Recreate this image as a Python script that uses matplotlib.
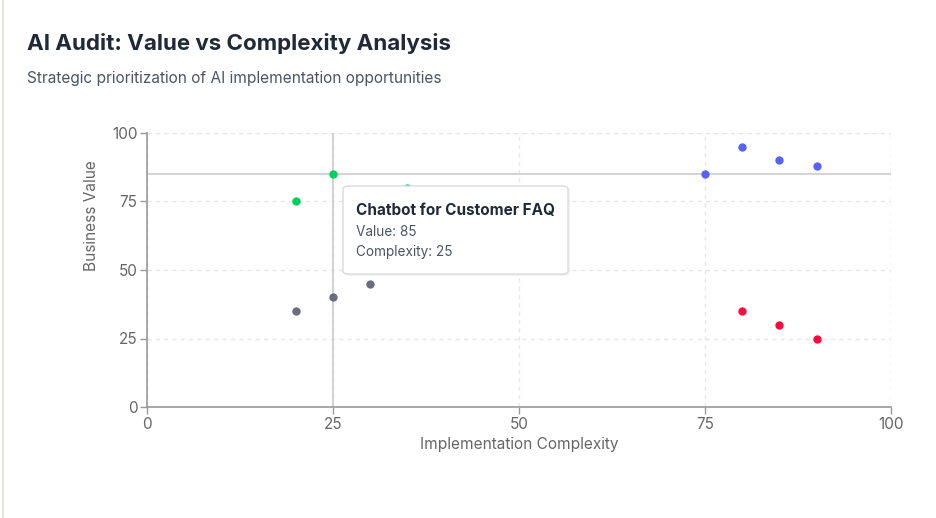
import matplotlib.pyplot as plt
from matplotlib.patches import FancyBboxPatch

# data
quick_wins_x = [20, 25, 35]
quick_wins_y = [75, 85, 80]
low_priority_x = [20, 25, 30]
low_priority_y = [35, 40, 45]
strategic_x = [75, 80, 85, 90]
strategic_y = [85, 95, 90, 88]
avoid_x = [80, 85, 90]
avoid_y = [35, 30, 25]

hover_name = "Chatbot for Customer FAQ"
hover_value = 85
hover_complexity = 25

ticks = [0, 25, 50, 75, 100]

plt.rcParams['font.family'] = ['Inter', 'DejaVu Sans']

fig = plt.figure(figsize=(9.36, 5.18), dpi=100)
W, H = 936, 518

ax = fig.add_axes([147 / W, 1 - 407 / H, (891 - 147) / W, (407 - 133) / H])

# grid
ax.set_xlim(0, 100)
ax.set_ylim(0, 100)
ax.set_xticks(ticks)
ax.set_yticks(ticks)
ax.grid(True, color='#e6e6e6', linestyle=(0, (3, 3)), linewidth=1)
ax.set_axisbelow(True)
for s in ['top', 'right']:
    ax.spines[s].set_visible(False)
for s in ['left', 'bottom']:
    ax.spines[s].set_color('#999999')
    ax.spines[s].set_linewidth(1.2)
ax.tick_params(colors='#999999', labelcolor='#666666', labelsize=11, length=5, width=1, pad=2)
# dashed border lines at 100
ax.axhline(100, color='#e6e6e6', linestyle=(0, (3, 3)), linewidth=1, zorder=0)
ax.axvline(100, color='#e6e6e6', linestyle=(0, (3, 3)), linewidth=1, zorder=0)

# hover crosshair
ax.axhline(hover_value, color='#cccccc', linewidth=1.2, zorder=1)
ax.axvline(hover_complexity, color='#cccccc', linewidth=1.2, zorder=1)

ax.scatter(quick_wins_x, quick_wins_y, s=36, color='#00d15e', zorder=3, linewidths=0)
ax.scatter(low_priority_x, low_priority_y, s=36, color='#6b6c7e', zorder=3, linewidths=0)
ax.scatter(strategic_x, strategic_y, s=36, color='#5663f7', zorder=3, linewidths=0)
ax.scatter(avoid_x, avoid_y, s=36, color='#ff0a3c', zorder=3, linewidths=0)

ax.set_xlabel('Implementation Complexity', color='#666666', fontsize=11.1, labelpad=4)
ax.set_ylabel('Business Value', color='#666666', fontsize=11.1, labelpad=9, y=0.70)

# titles
fig.text(27 / W, 1 - 44 / H, 'AI Audit: Value vs Complexity Analysis', fontsize=16.1,
         fontweight='bold', color='#1f2937', va='center')
fig.text(27 / W, 1 - 78 / H, 'Strategic prioritization of AI implementation opportunities',
         fontsize=11.1, color='#4b5563', va='center')

# tooltip
shadow = FancyBboxPatch((345 / W, 1 - 276 / H), (568 - 343) / W, (274 - 186) / H,
                        boxstyle='round,pad=0,rounding_size=0.006', transform=fig.transFigure,
                        facecolor='#000000', alpha=0.05, edgecolor='none', zorder=9)
fig.add_artist(shadow)
tip = FancyBboxPatch((343 / W, 1 - 274 / H), (568 - 343) / W, (274 - 186) / H,
                     boxstyle='round,pad=0,rounding_size=0.006', transform=fig.transFigure,
                     facecolor='white', edgecolor='#d9d9e0', linewidth=1, zorder=10)
fig.add_artist(tip)
fig.text(356 / W, 1 - 211 / H, hover_name, fontsize=11, fontweight='bold',
         color='#1f2937', va='center', zorder=11)
fig.text(356 / W, 1 - 232 / H, f'Value: {hover_value}', fontsize=9.8,
         color='#4b5563', va='center', zorder=11)
fig.text(356 / W, 1 - 252 / H, f'Complexity: {hover_complexity}', fontsize=9.8,
         color='#4b5563', va='center', zorder=11)

# page edge
fig.add_artist(plt.Line2D([2.5 / W, 2.5 / W], [0, 1], transform=fig.transFigure,
                          color='#e5e5e0', linewidth=1.5))

plt.savefig('out.png', dpi=100)
